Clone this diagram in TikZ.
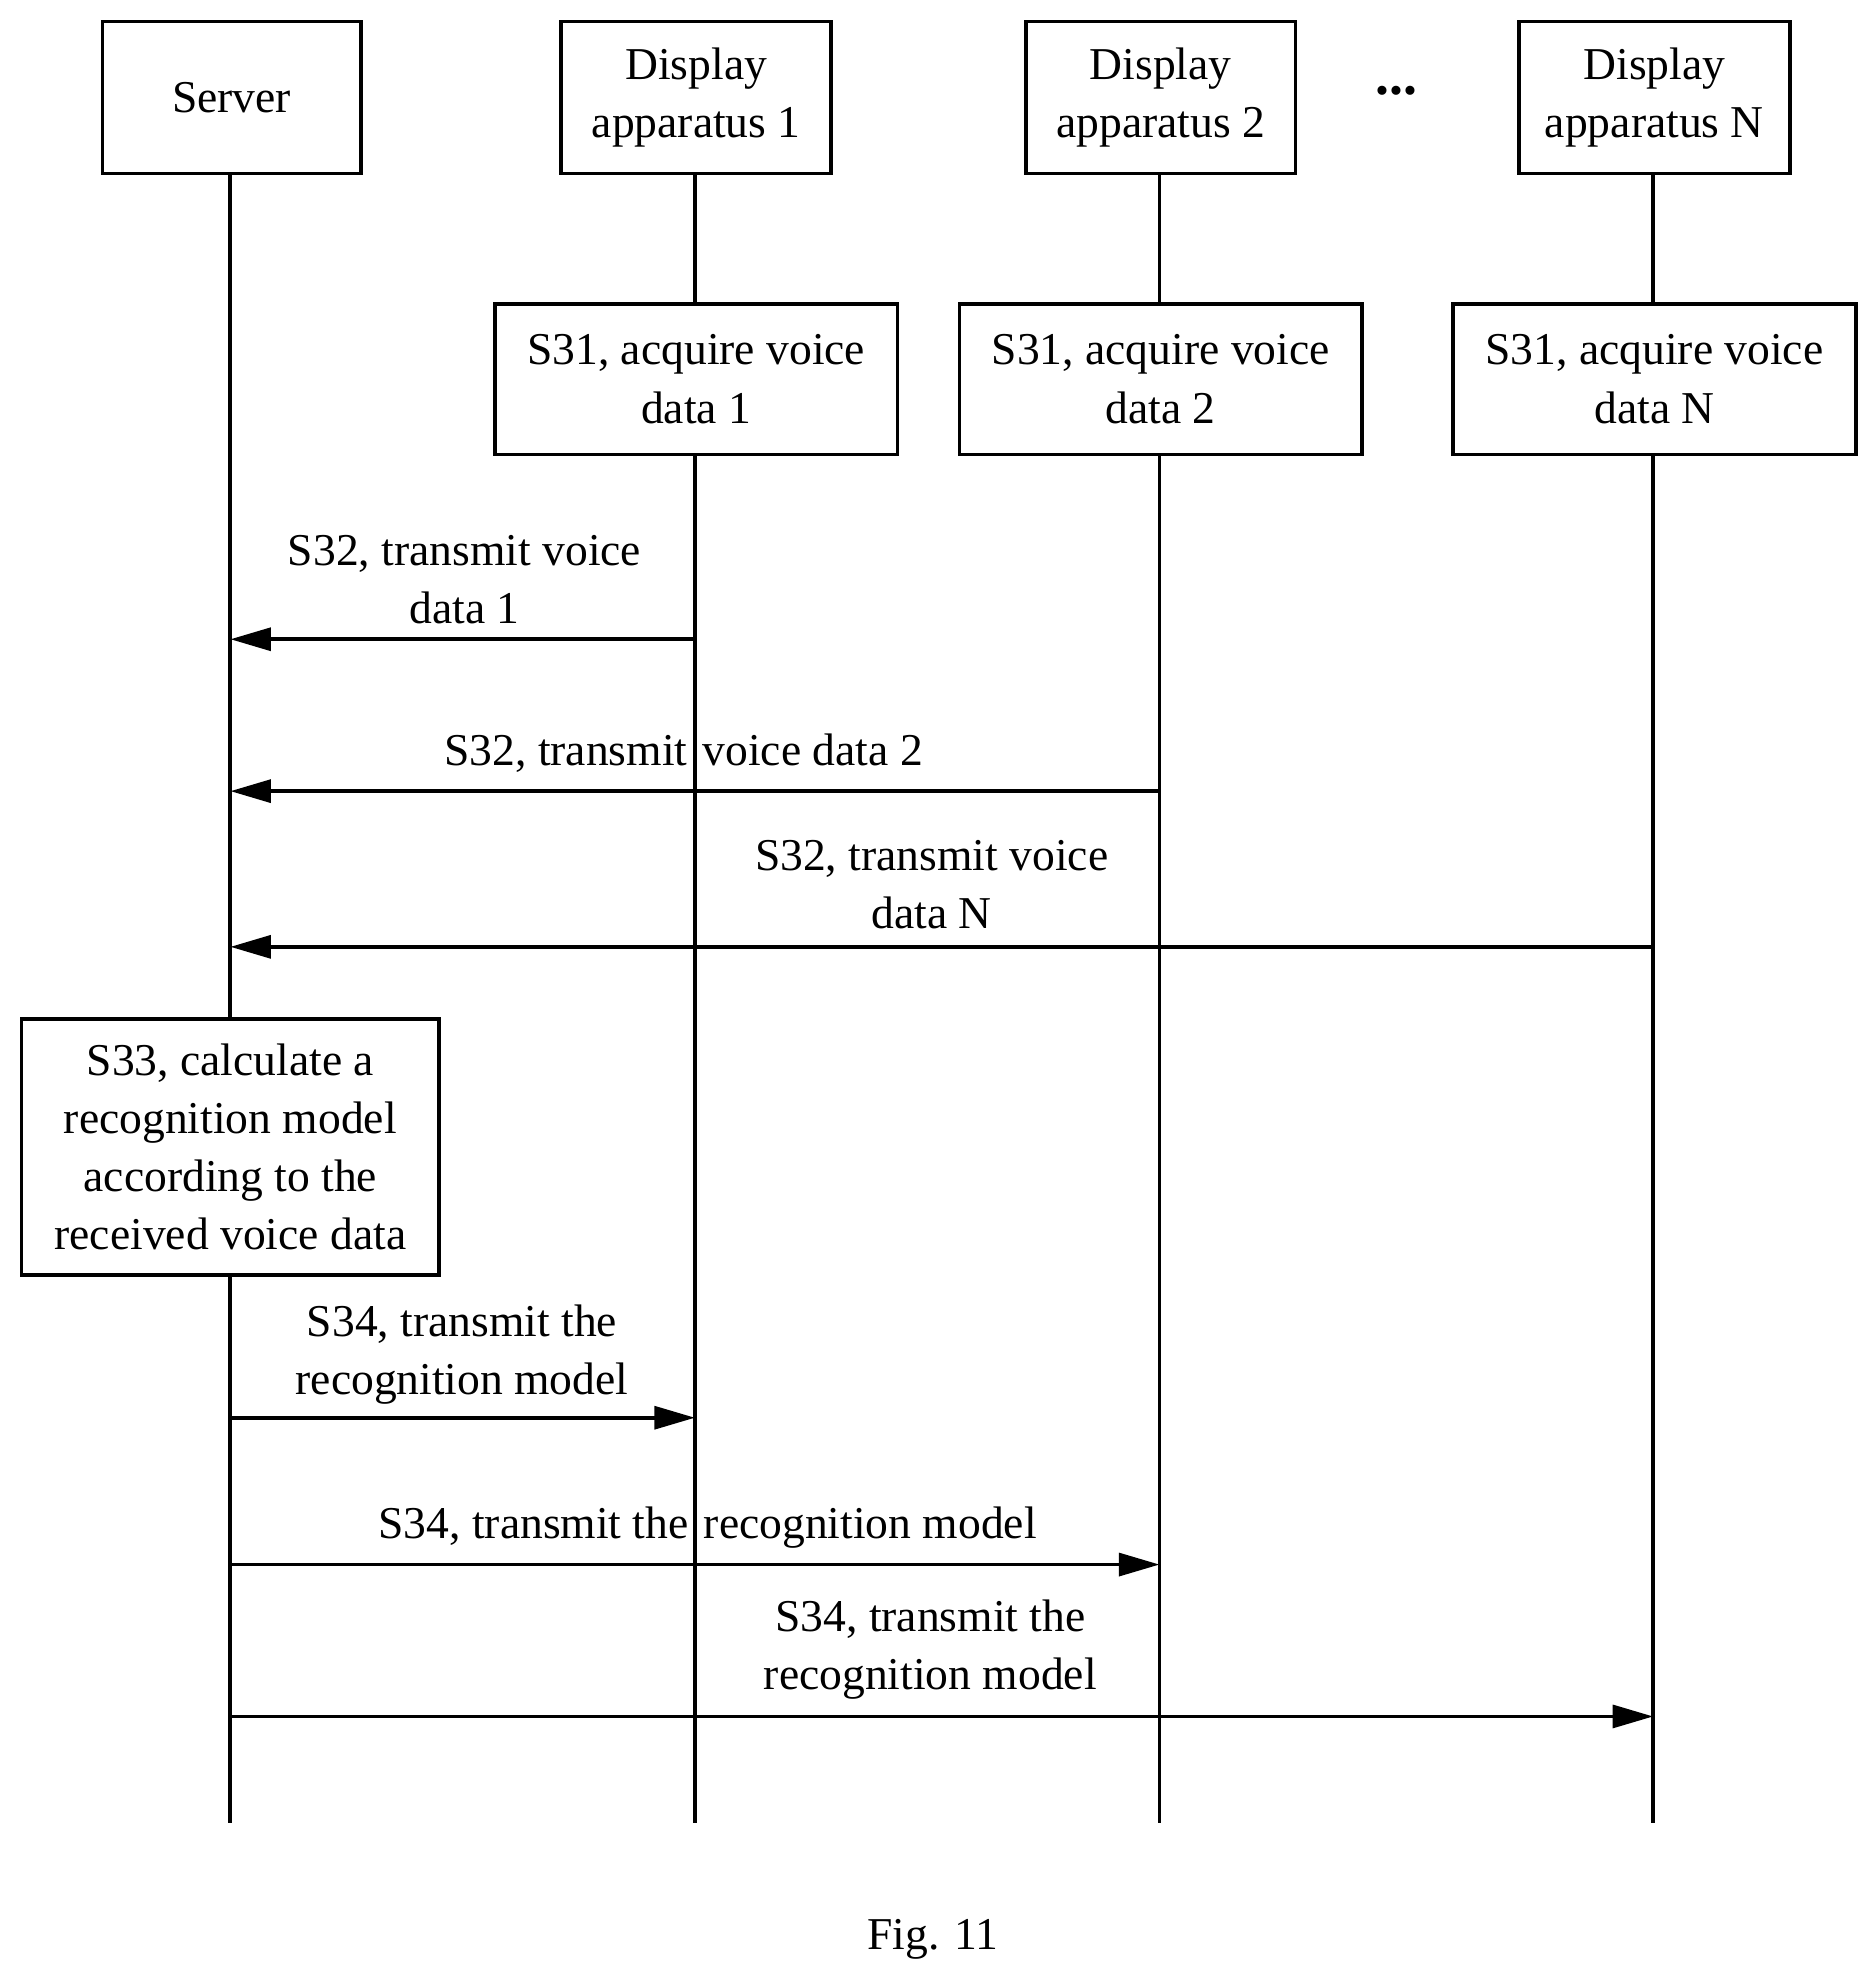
\documentclass[tikz,border=0pt]{standalone}
\usepackage{fontspec}
\setmainfont{Liberation Serif}
\usetikzlibrary{arrows.meta}
\begin{document}
\begin{tikzpicture}[x=0.5pt,y=-0.5pt,
  box/.style={draw,line width=1.5pt,inner sep=0pt,align=center,font=\fontsize{18}{23}\selectfont},
  lbl/.style={align=center,font=\fontsize{18}{23}\selectfont,inner sep=0pt},
  life/.style={line width=1.5pt},
  msg/.style={line width=1.5pt,-{Triangle[length=16pt,width=9pt]}}]
\useasboundingbox (0,0) rectangle (1480,1565);
\node[box,minimum width=102pt,minimum height=60pt] (srv) at (183,77) {Server};
\node[box,minimum width=106.5pt,minimum height=60pt] (d1) at (550,77) {Display\\apparatus 1};
\node[box,minimum width=106.5pt,minimum height=60pt] (d2) at (917,77) {Display\\apparatus 2};
\node[box,minimum width=107pt,minimum height=60pt] (dn) at (1307,77) {Display\\apparatus N};
\node[font=\fontsize{22}{22}\selectfont\bfseries] (dots) at (1103,72) {...};
\coordinate (e0) at (182,1440);
\coordinate (e1) at (549,1440);
\coordinate (e2) at (916,1440);
\coordinate (en) at (1306,1440);
\draw[life] (srv.south -| e0) -- (e0);
\draw[life] (d1.south -| e1) -- (e1);
\draw[life] (d2.south -| e2) -- (e2);
\draw[life] (dn.south -| en) -- (en);
\node[box,fill=white,minimum width=159pt,minimum height=59.5pt] (a1) at (550,299.5) {S31, acquire voice\\data 1};
\node[box,fill=white,minimum width=159pt,minimum height=59.5pt] (a2) at (917,299.5) {S31, acquire voice\\data 2};
\node[box,fill=white,minimum width=159pt,minimum height=59.5pt] (an) at (1307,299.5) {S31, acquire voice\\data N};
\node[box,fill=white,minimum width=165pt,minimum height=101pt] (calc) at (182,906) {S33, calculate a\\recognition model\\according to the\\received voice data};
% S32
\coordinate (p1s) at (549,505); \coordinate (p1e) at (182,505);
\draw[msg] (p1s) -- (p1e);
\node[lbl] (t1) at (367,458) {S32, transmit voice\\data 1};
\coordinate (p2s) at (916,625); \coordinate (p2e) at (182,625);
\draw[msg] (p2s) -- (p2e);
\node[lbl] (t2) at (540,595) {S32, transmit\hspace{6pt}voice data 2};
\coordinate (p3s) at (1306,748); \coordinate (p3e) at (182,748);
\draw[msg] (p3s) -- (p3e);
\node[lbl] (t3) at (736,699) {S32, transmit voice\\data N};
% S34
\coordinate (q1s) at (182,1120); \coordinate (q1e) at (549,1120);
\draw[msg] (q1s) -- (q1e);
\node[lbl] (u1) at (365,1070) {S34, transmit the\\recognition model};
\coordinate (q2s) at (182,1236); \coordinate (q2e) at (916,1236);
\draw[msg] (q2s) -- (q2e);
\node[lbl] (u2) at (559,1207) {S34, transmit the\hspace{6pt}recognition model};
\coordinate (q3s) at (182,1356); \coordinate (q3e) at (1306,1356);
\draw[msg] (q3s) -- (q3e);
\node[lbl] (u3) at (735,1303) {S34, transmit the\\recognition model};
\node[lbl] (fig) at (737,1532) {Fig. 11};
\end{tikzpicture}
\end{document}
